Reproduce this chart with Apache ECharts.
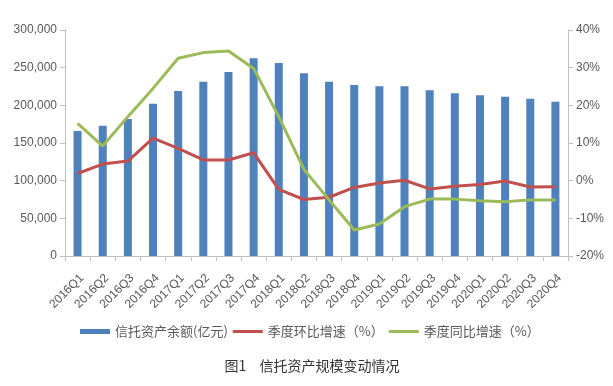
<!DOCTYPE html>
<html><head><meta charset="utf-8">
<script src="https://cdn.jsdelivr.net/npm/echarts@6/dist/echarts.min.js"></script>
<style>html,body{margin:0;padding:0;background:#fff}#c{width:613px;height:386px}</style>
</head><body><div id="c"></div>
<script>
const categories = ['2016Q1','2016Q2','2016Q3','2016Q4','2017Q1','2017Q2','2017Q3','2017Q4','2018Q1','2018Q2','2018Q3','2018Q4','2019Q1','2019Q2','2019Q3','2019Q4','2020Q1','2020Q2','2020Q3','2020Q4'];
const assets = [165800,172900,181700,202200,219100,231400,244100,262500,256100,242700,231400,227000,225300,225400,220000,216000,213300,211400,208600,204900];
const qoq = [1.9,4.4,5.2,11.3,8.6,5.5,5.5,7.4,-2.3,-5.0,-4.4,-1.8,-0.6,0.1,-2.2,-1.5,-1.0,-0.1,-1.7,-1.6];
const yoy = [15.2,9.2,17.0,24.5,32.5,34.0,34.4,29.8,17.0,3.0,-5.1,-13.1,-11.5,-6.9,-4.9,-4.9,-5.3,-5.6,-5.1,-5.1];
const names = ['信托资产余额(亿元)','季度环比增速（%）','季度同比增速（%）'];
const caption = '图1\u2002\u00a0\u00a0信托资产规模变动情况';

const chart = echarts.init(document.getElementById('c'));
const gray = '#595959', axisCol = '#bfbfbf';
const font = '"Liberation Sans", Arial, "Noto Sans CJK SC", sans-serif';
const lineIcon = 'path://M0,0H30V3H0Z';
chart.setOption({
  animation:false,
  textStyle:{fontFamily:font},
  grid:{left:65,right:45,top:30,bottom:130},
  title:{text:caption,left:307,textAlign:'center',top:354,textStyle:{fontSize:14,fontWeight:'normal',color:'#333',fontFamily:'"Noto Sans CJK SC", sans-serif'}},
  legend:{top:320,left:75,itemGap:5,itemWidth:30,itemHeight:5,
    textStyle:{fontSize:13,color:gray,fontFamily:'"Noto Sans CJK SC", sans-serif'},
    data:[{name:names[0],icon:'rect'},{name:names[1],icon:lineIcon},{name:names[2],icon:lineIcon}]},
  xAxis:{type:'category',data:categories,
    axisLine:{lineStyle:{color:axisCol}},
    axisTick:{show:true,length:5,lineStyle:{color:axisCol}},
    axisLabel:{rotate:45,fontSize:12,color:gray,margin:16,interval:0,verticalAlign:'top'}},
  yAxis:[
    {type:'value',min:0,max:300000,interval:50000,splitLine:{show:false},
     axisLine:{show:true,lineStyle:{color:axisCol}},axisTick:{show:true,length:5,lineStyle:{color:axisCol}},
     axisLabel:{fontSize:12,color:gray,margin:8,formatter:v=>v.toLocaleString('en-US')}},
    {type:'value',min:-20,max:40,interval:10,splitLine:{show:false},
     axisLine:{show:true,lineStyle:{color:axisCol}},axisTick:{show:true,length:5,lineStyle:{color:axisCol}},
     axisLabel:{fontSize:12,color:gray,margin:8,formatter:v=>v+'%'}}
  ],
  series:[
    {name:names[0],type:'bar',data:assets,barWidth:8,itemStyle:{color:'#4f81bd'}},
    {name:names[1],type:'line',yAxisIndex:1,data:qoq,symbol:'none',lineStyle:{width:3,color:'#c0504d'},itemStyle:{color:'#c0504d'}},
    {name:names[2],type:'line',yAxisIndex:1,data:yoy,symbol:'none',lineStyle:{width:3,color:'#9bbb59'},itemStyle:{color:'#9bbb59'}}
  ]
});
</script></body></html>
